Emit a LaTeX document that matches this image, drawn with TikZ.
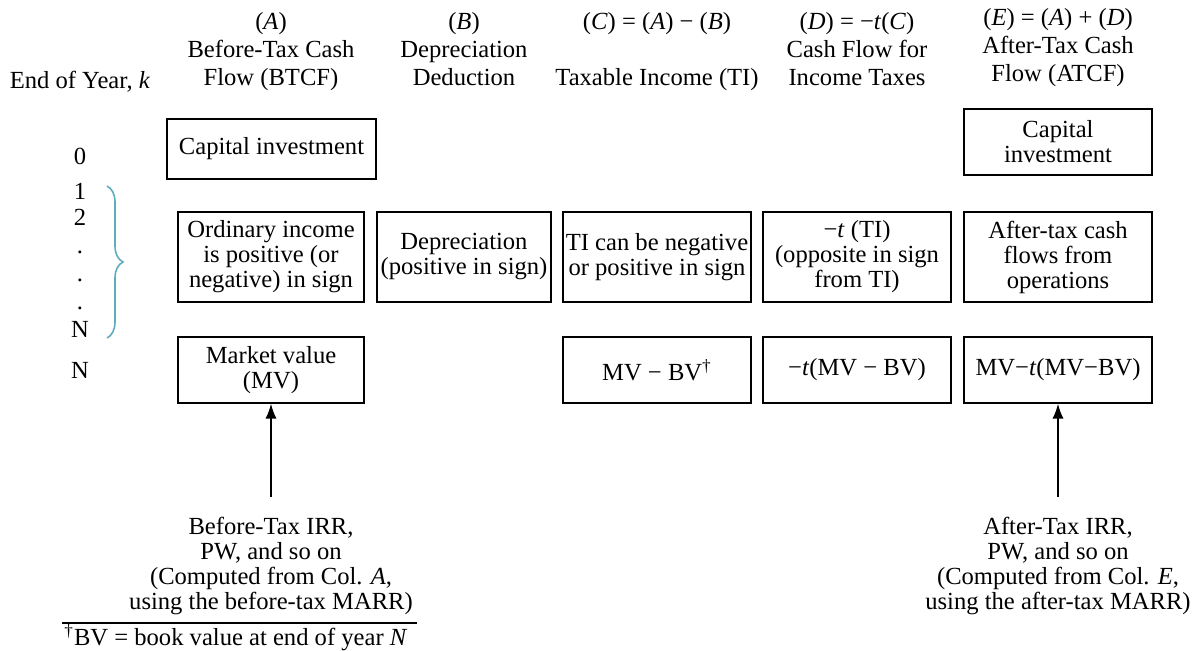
\documentclass[tikz,border=0pt]{standalone}
\usepackage{fontspec}
\setmainfont{Liberation Serif}
\usepackage{xcolor}
\usetikzlibrary{arrows.meta,decorations.pathreplacing}
\definecolor{bracecol}{RGB}{95,172,192}
\tikzset{
  head/.style={align=center,inner sep=0pt,font=\fontsize{12.3}{14.2}\selectfont,
    execute at begin node=\rule{0pt}{12pt},
    execute at end node=\rule[-4pt]{0pt}{4pt}},
  cellbox/.style 2 args={draw,line width=0.6pt,align=center,inner sep=0pt,
    minimum width=#1,minimum height=#2},
  note/.style={align=center,inner sep=0pt}
}

\begin{document}
\begin{tikzpicture}[x=0.5pt,y=-0.5pt,>=Latex,font=\fontsize{12.3}{12.5}\selectfont]
  \useasboundingbox (0,0) rectangle (1194,651);
  % column heads
  \node[anchor=base,inner sep=0pt] (yearhd) at (80,89) {End of Year, \textit{k}};
  \node[head] (hdA) at (271,53) {(\textit{A})\\Before-Tax Cash\\Flow (BTCF)};
  \node[head] (hdB) at (464,53) {(\textit{B})\\Depreciation\\Deduction};
  \node[head] (hdC) at (657,53) {(\textit{C}) = (\textit{A}) − (\textit{B})\\\mbox{}\\Taxable Income (TI)};
  \node[head] (hdD) at (857,53) {(\textit{D}) = −\textit{t}(\textit{C})\\Cash Flow for\\Income Taxes};
  \node[head] (hdE) at (1058,49) {(\textit{E}) = (\textit{A}) + (\textit{D})\\After-Tax Cash\\Flow (ATCF)};

  % end of year labels
  \node[anchor=base] (yr0) at (80,165) {0};
  \foreach \yr/\y [count=\i] in {1/200,2/226,./254,./282,./310,N/338}
    \node[anchor=base] (yr\i) at (80,\y) {\yr};
  \node (yrN) at (80,370) {N};
  \coordinate (bractop) at (107,186);
  \coordinate (bracbot) at (107,338);
  \draw[bracecol,line width=0.8pt,decorate,decoration={brace,amplitude=8pt}]
    (bractop) -- (bracbot);

  % year 0
  \node[cellbox={104.5pt}{30pt}] (capA) at (271.5,149) {Capital investment};
  \node[cellbox={94pt}{33pt}] (capE) at (1058,142) {Capital\\investment};

  % years 1 to N
  \node[cellbox={93pt}{45pt}] (ordA) at (271,257) {Ordinary income\\is positive (or\\negative) in sign};
  \node[cellbox={87pt}{45pt}] (depB) at (464,257) {Depreciation\\(positive in sign)};
  \node[cellbox={94pt}{45pt}] (tiC) at (657,257) {TI can be negative\\or positive in sign};
  \node[cellbox={94pt}{45pt}] (taxD) at (857,257) {−\textit{t} (TI)\\(opposite in sign\\from TI)};
  \node[cellbox={94pt}{45pt}] (atE) at (1058,257) {After-tax cash\\flows from\\operations};

  % year N
  \node[cellbox={93pt}{33pt}] (mvA) at (271,370) {Market value\\(MV)};
  \node[cellbox={94pt}{33pt}] (mvC) at (657,370) {MV − BV\textsuperscript{†}};
  \node[cellbox={94pt}{33pt}] (mvD) at (857,370) {−\textit{t}(MV − BV)};
  \node[cellbox={94pt}{33pt}] (mvE) at (1058,370) {MV−\textit{t}(MV−BV)};

  % measures of merit
  \node[note] (irrA) at (271,566) {Before-Tax IRR,\\PW, and so on\\(Computed from Col. \textit{A},\\using the before-tax MARR)};
  \node[note] (irrE) at (1058,566) {After-Tax IRR,\\PW, and so on\\(Computed from Col. \textit{E},\\using the after-tax MARR)};
  \draw[->,line width=1pt,shorten <=10pt] (irrA.north) -- (irrA.north |- mvA.south);
  \draw[->,line width=1pt,shorten <=10pt] (irrE.north) -- (irrE.north |- mvE.south);

  % footnote
  \coordinate (ruleL) at (62,623);
  \coordinate (ruleR) at (417,623);
  \draw[line width=0.6pt] (ruleL) -- (ruleR);
  \node[anchor=west,inner sep=0pt] (fnote) at (64,638) {\textsuperscript{†}BV = book value at end of year \textit{N}};
\end{tikzpicture}
\end{document}
